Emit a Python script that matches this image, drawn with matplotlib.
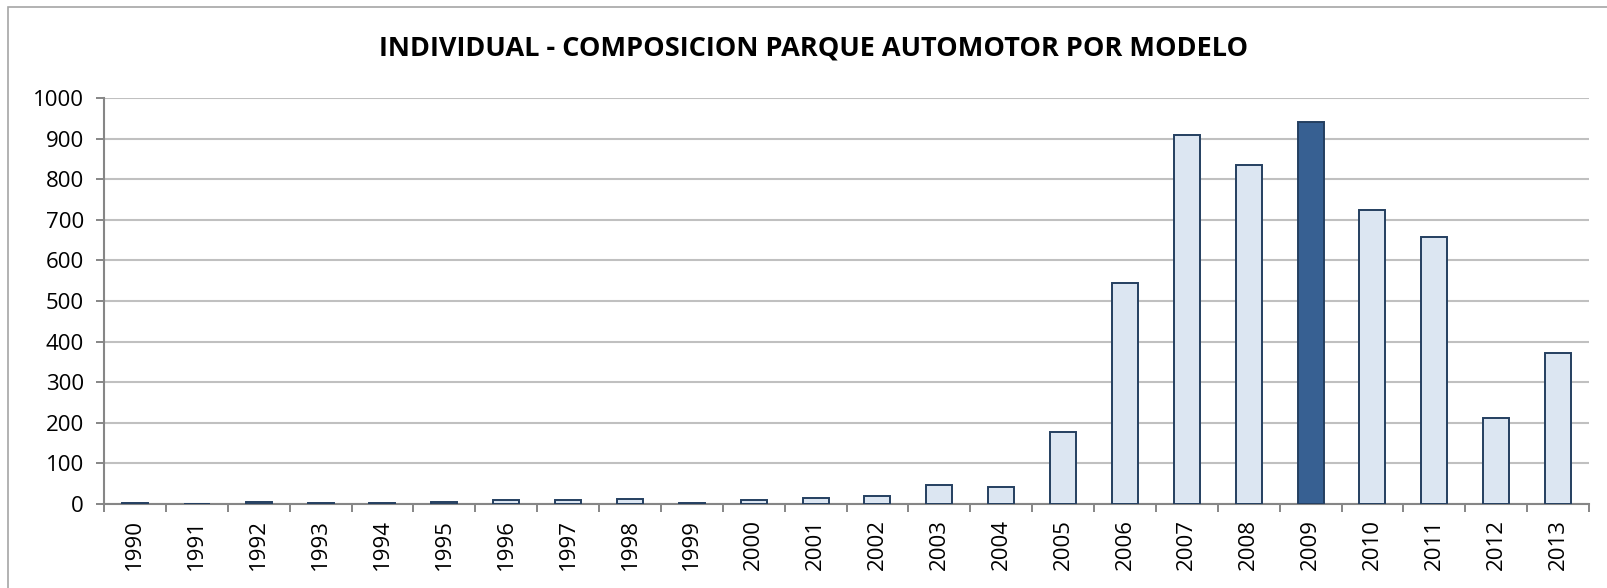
import matplotlib
matplotlib.use("Agg")
import matplotlib.pyplot as plt
from matplotlib.patches import Rectangle
import numpy as np

years = [str(y) for y in range(1990, 2014)]
values = [2, 0, 5, 3, 2, 5, 10, 10, 13, 3, 9, 14, 19, 47, 42, 177,
          544, 909, 834, 940, 724, 657, 213, 373]
highlight_year = "2009"
yticks = list(range(0, 1001, 100))

plt.rcParams['font.family'] = ['Open Sans', 'DejaVu Sans']

fig = plt.figure(figsize=(16.07, 5.88), dpi=100)
ax = fig.add_axes([104/1607, 1 - 504/588, (1589-104)/1607, (504-98)/588])

fig.patches.append(Rectangle((8/1607, -0.05), 1.2, 1 - 7/588 + 0.05,
                             transform=fig.transFigure, fill=False,
                             edgecolor='#A6A6A6', linewidth=1.2))

x = np.arange(len(years))
fills = ['#376092' if y == highlight_year else '#DCE6F2' for y in years]
ax.bar(x, values, width=0.42, color=fills, edgecolor='#243F60', linewidth=1.4, zorder=3)

ax.set_xlim(-0.5, len(years) - 0.5)
ax.set_ylim(0, 1000)
ax.set_yticks(yticks)
ax.set_yticklabels([str(v) for v in yticks], fontsize=16)
ax.yaxis.grid(True, color='#C0C0C0', linewidth=1.5, zorder=0)
ax.set_axisbelow(True)

ax.set_xticks(x)
ax.set_xticklabels(years, rotation=90, fontsize=16)
ax.set_xticks(np.arange(-0.5, len(years), 1), minor=True)
ax.tick_params(axis='x', which='major', length=0, pad=11)
ax.tick_params(axis='x', which='minor', length=5.5, color='#868686', width=1.4)
ax.tick_params(axis='y', length=5.5, color='#868686', width=1.4, pad=9)

for s in ['top', 'right']:
    ax.spines[s].set_visible(False)
for s in ['left', 'bottom']:
    ax.spines[s].set_color('#868686')
    ax.spines[s].set_linewidth(1.5)

fig.text(814/1607, 1 - 48/588, 'INDIVIDUAL - COMPOSICION PARQUE AUTOMOTOR POR MODELO',
         ha='center', va='center', fontsize=19.5, fontweight='bold')

fig.savefig('out.png', dpi=100)
